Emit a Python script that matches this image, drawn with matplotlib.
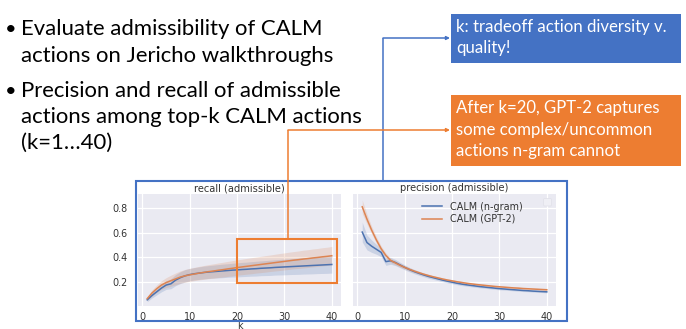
import numpy as np
import matplotlib
matplotlib.use("Agg")
import matplotlib.pyplot as plt
from matplotlib.patches import Rectangle, FancyBboxPatch

W, H = 686, 329

# ---------------- data ----------------
k = list(range(1, 41))

recall_ngram = [0.055, 0.09, 0.12, 0.15, 0.175, 0.185, 0.215, 0.235, 0.25, 0.26,
                0.267, 0.272, 0.277, 0.281, 0.284, 0.287, 0.29, 0.293, 0.296, 0.298,
                0.301, 0.303, 0.306, 0.308, 0.311, 0.313, 0.315, 0.318, 0.32, 0.322,
                0.324, 0.326, 0.328, 0.33, 0.332, 0.334, 0.336, 0.338, 0.34, 0.342]
recall_ngram_sd = [0.015, 0.02, 0.025, 0.03, 0.035, 0.04, 0.045, 0.048, 0.05, 0.05,
                   0.05, 0.051, 0.052, 0.052, 0.053, 0.054, 0.055, 0.055, 0.056, 0.057,
                   0.058, 0.058, 0.059, 0.06, 0.06, 0.061, 0.062, 0.062, 0.063, 0.064,
                   0.064, 0.065, 0.066, 0.066, 0.067, 0.068, 0.068, 0.069, 0.07, 0.07]
recall_gpt2 = [0.065, 0.11, 0.145, 0.175, 0.195, 0.21, 0.225, 0.24, 0.25, 0.258,
               0.265, 0.272, 0.278, 0.284, 0.289, 0.295, 0.3, 0.306, 0.311, 0.317,
               0.322, 0.327, 0.332, 0.337, 0.342, 0.347, 0.352, 0.357, 0.362, 0.367,
               0.372, 0.377, 0.381, 0.386, 0.39, 0.395, 0.399, 0.404, 0.408, 0.413]
recall_gpt2_sd = [0.015, 0.025, 0.03, 0.035, 0.04, 0.045, 0.048, 0.05, 0.052, 0.053,
                  0.054, 0.055, 0.056, 0.057, 0.058, 0.059, 0.06, 0.061, 0.062, 0.062,
                  0.063, 0.064, 0.065, 0.065, 0.066, 0.067, 0.067, 0.068, 0.069, 0.069,
                  0.07, 0.07, 0.071, 0.072, 0.072, 0.073, 0.073, 0.074, 0.074, 0.075]

precision_ngram = [0.605, 0.52, 0.49, 0.465, 0.44, 0.365, 0.372, 0.358, 0.338, 0.318,
                   0.3, 0.284, 0.27, 0.257, 0.245, 0.235, 0.225, 0.215, 0.206, 0.198,
                   0.19, 0.183, 0.177, 0.172, 0.167, 0.162, 0.158, 0.154, 0.15, 0.146,
                   0.143, 0.14, 0.137, 0.134, 0.131, 0.129, 0.126, 0.124, 0.122, 0.12]
precision_ngram_sd = [0.08, 0.06, 0.05, 0.04, 0.035, 0.03, 0.028, 0.025, 0.022, 0.02,
                      0.018, 0.017, 0.016, 0.015, 0.015, 0.014, 0.014, 0.013, 0.013, 0.012,
                      0.012, 0.012, 0.011, 0.011, 0.011, 0.01, 0.01, 0.01, 0.01, 0.01,
                      0.009, 0.009, 0.009, 0.009, 0.009, 0.008, 0.008, 0.008, 0.008, 0.008]
precision_gpt2 = [0.81, 0.71, 0.62, 0.54, 0.47, 0.415, 0.375, 0.355, 0.335, 0.318,
                  0.302, 0.288, 0.275, 0.263, 0.252, 0.242, 0.233, 0.224, 0.216, 0.209,
                  0.202, 0.196, 0.19, 0.185, 0.18, 0.176, 0.172, 0.168, 0.164, 0.161,
                  0.158, 0.155, 0.152, 0.15, 0.147, 0.145, 0.143, 0.141, 0.139, 0.137]
precision_gpt2_sd = [0.055, 0.04, 0.03, 0.025, 0.022, 0.02, 0.018, 0.016, 0.015, 0.014,
                     0.013, 0.012, 0.012, 0.011, 0.011, 0.01, 0.01, 0.01, 0.009, 0.009,
                     0.009, 0.009, 0.008, 0.008, 0.008, 0.008, 0.008, 0.008, 0.007, 0.007,
                     0.007, 0.007, 0.007, 0.007, 0.007, 0.007, 0.007, 0.007, 0.007, 0.007]

series_labels = ["CALM (n-gram)", "CALM (GPT-2)"]
panel_titles = ["recall (admissible)", "precision (admissible)"]
x_ticks = [0, 10, 20, 30, 40]
y_ticks = [0.2, 0.4, 0.6, 0.8]

bullets = [["Evaluate admissibility of CALM", "actions on Jericho walkthroughs"],
           ["Precision and recall of admissible", "actions among top-k CALM actions",
            "(k=1\u202640)"]]
callout_blue = ["k: tradeoff action diversity v.", "quality!"]
callout_orange = ["After k=20, GPT-2 captures", "some complex/uncommon",
                  "actions n-gram cannot"]

# ---------------- style ----------------
C_BLUE = "#4C72B0"
C_ORANGE = "#DD8452"
OFF_BLUE = "#4472C4"
OFF_ORANGE = "#ED7D31"
TXT = "#333333"
FS = 6.9

fig = plt.figure(figsize=(W / 100, H / 100), dpi=100)
fig.patch.set_facecolor("white")


def rect(l, t, r, b):
    return [l / W, 1 - b / H, (r - l) / W, (b - t) / H]


ax1 = fig.add_axes(rect(138, 194, 341, 306))
ax2 = fig.add_axes(rect(353, 194, 556, 306), sharey=ax1)

data = [
    (ax1, [(recall_ngram, recall_ngram_sd), (recall_gpt2, recall_gpt2_sd)]),
    (ax2, [(precision_ngram, precision_ngram_sd), (precision_gpt2, precision_gpt2_sd)]),
]
handles = []
for i, (ax, ser) in enumerate(data):
    ax.set_facecolor("#EAEAF2")
    for s in ax.spines.values():
        s.set_visible(False)
    ax.grid(True, color="white", lw=0.9)
    ax.set_axisbelow(True)
    for (m, sd), c, lab in zip(ser, [C_BLUE, C_ORANGE], series_labels):
        m = np.array(m)
        sd = np.array(sd)
        ax.fill_between(k, m - sd, m + sd, color=c, alpha=0.2, lw=0)
        ln, = ax.plot(k, m, color=c, lw=1.1, label=lab)
        if i == 1:
            handles.append(ln)
    ax.set_xlim(-0.95, 41.95)
    ax.set_xticks(x_ticks)
    ax.tick_params(length=0, labelsize=FS, labelcolor=TXT)
    ax.tick_params(axis="x", pad=4)
    ax.tick_params(axis="y", pad=7.7)
    ax.set_title(panel_titles[i], fontsize=FS + 0.2, color=TXT, pad=2.0)

ax1.set_ylim(0.005, 0.914)
ax1.set_yticks(y_ticks)
ax2.tick_params(labelleft=False)
ax1.set_xlabel("k", fontsize=FS, color=TXT, labelpad=-0.5)

ax2.legend(handles=handles, labels=series_labels, fontsize=FS, frameon=False,
           loc="upper left", bbox_to_anchor=(421.5 / W, 1 - 201.5 / H),
           bbox_transform=fig.transFigure, borderpad=0, borderaxespad=0,
           handlelength=2.1, handletextpad=0.85, labelspacing=0.25,
           labelcolor=TXT)

# ---------------- slide overlay (pixel coordinates) ----------------
ov = fig.add_axes([0, 0, 1, 1], zorder=10)
ov.set_xlim(0, W)
ov.set_ylim(H, 0)
ov.axis("off")

# empty legend box in the precision panel
ov.add_patch(FancyBboxPatch((543.5, 198.5), 8, 7.5,
                            boxstyle="round,pad=0,rounding_size=1.2",
                            facecolor="#EFEFF5", edgecolor="#E2E2EA", lw=0.6))

# chart frame
ov.add_patch(Rectangle((136, 181), 567 - 136, 321 - 181, fill=False,
                       edgecolor=OFF_BLUE, lw=1.5))
# orange highlight box
ov.add_patch(Rectangle((237, 239), 337 - 237, 283 - 239, fill=False,
                       edgecolor=OFF_ORANGE, lw=1.5))

# connectors
ov.plot([383, 383], [181, 38], color=OFF_BLUE, lw=1.1, solid_capstyle="butt")
ov.annotate("", xy=(450, 38), xytext=(383, 38),
            arrowprops=dict(arrowstyle="-|>", color=OFF_BLUE, lw=1.1,
                            mutation_scale=5, shrinkA=0, shrinkB=0))
ov.plot([288, 288], [239, 130], color=OFF_ORANGE, lw=1.1, solid_capstyle="butt")
ov.annotate("", xy=(450, 130), xytext=(288, 130),
            arrowprops=dict(arrowstyle="-|>", color=OFF_ORANGE, lw=1.1,
                            mutation_scale=5, shrinkA=0, shrinkB=0))

# callout boxes
ov.add_patch(Rectangle((451, 14), 681 - 451, 63 - 14, color=OFF_BLUE, lw=0))
ov.add_patch(Rectangle((451, 95), 681 - 451, 166 - 95, color=OFF_ORANGE, lw=0))

FONT = "Lato"
renderer = fig.canvas.get_renderer()


def fitted_size(s, target_w, base=14):
    t = ov.text(0, 0, s, fontsize=base, family=FONT)
    w = t.get_window_extent(renderer=renderer).width
    t.remove()
    return base * target_w / w


fs_bul = fitted_size(bullets[0][0], 302)
fs_call = fitted_size(callout_blue[0], 212)

baselines = [[35, 61.5], [97, 123, 149]]
for lines, bls in zip(bullets, baselines):
    ov.text(11, bls[0], "\u2022", fontsize=fs_bul * 0.9, family=FONT, color="black",
            va="baseline", ha="center")
    for s, y in zip(lines, bls):
        ov.text(21, y, s, fontsize=fs_bul, family=FONT, color="black",
                va="baseline", ha="left")

for s, y in zip(callout_blue, [32, 53]):
    ov.text(456, y, s, fontsize=fs_call, family=FONT, color="white",
            va="baseline", ha="left")
for s, y in zip(callout_orange, [113, 134.5, 156]):
    ov.text(456, y, s, fontsize=fs_call, family=FONT, color="white",
            va="baseline", ha="left")

fig.savefig("out.png", dpi=100)
